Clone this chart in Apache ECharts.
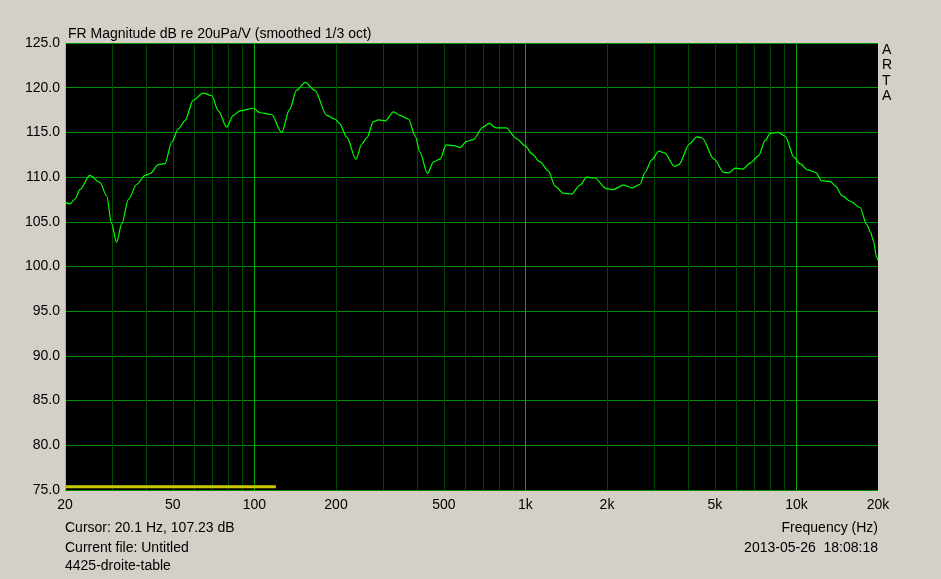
<!DOCTYPE html>
<html>
<head>
<meta charset="utf-8">
<script src="https://cdn.jsdelivr.net/npm/echarts@6/dist/echarts.min.js"></script>
<style>html,body{margin:0;padding:0;background:#D4D0C8;}#c{width:941px;height:579px;}</style>
</head>
<body>
<div id="c"></div>
<script>
const freq = [20,20.86,21.8,22.7,24.7,26.9,28.5,29.7,31.0,32.4,34.3,36.8,39.5,41.2,44.2,46.8,49.5,52.4,55.4,59.5,64.7,69.6,73.6,79.0,83.6,88.4,99,104.8,115.7,126,135,143,154,167,185,198,206,219,237,249,260,275,287,304,326,345,370,392,408,435,458,484,510,550,574,607,642,698,734,780,850,926,1000,1056,1132,1214,1286,1380,1480,1588,1686,1802,1992,2106,2296,2480,2650,2760,2918,3110,3260,3552,3680,4030,4284,4480,4968,5406,5638,5964,6340,6768,7254,7672,8000,8578,9072,9812,10288,11020,11810,12380,13360,13940,14760,15800,17170,18170,18800,19220,19780,20000];
const magDb = [107.2,107.0,107.55,108.6,110.2,109.4,107.9,104.8,102.7,104.8,107.5,109.2,110.2,110.4,111.4,111.5,113.9,115.4,116.3,118.6,119.4,119.1,117.4,115.6,116.9,117.4,117.7,117.2,117.0,115.0,117.6,119.7,120.6,119.7,116.9,116.5,116.0,114.5,112.0,113.7,114.4,116.2,116.4,116.3,117.3,116.9,116.5,114.6,112.8,110.4,111.7,112.0,113.6,113.5,113.3,114.0,114.2,115.6,116.0,115.5,115.5,114.3,113.5,112.6,111.7,110.7,109.0,108.2,108.1,109.1,110.0,109.9,108.7,108.6,109.1,108.8,109.2,110.5,111.9,112.9,112.7,111.2,111.4,113.7,114.5,114.4,112.0,110.5,110.5,111.0,110.9,111.6,112.4,114.1,114.9,115.0,114.6,112.2,111.5,110.8,110.5,109.6,109.5,109.0,107.9,107.3,106.6,104.7,103.8,102.9,101.0,100.7];
const markerFreq = [20, 120];
const markerDb = [75.35, 75.35];
const gridFreqs = [30,40,50,60,70,80,90,100,200,300,400,500,600,700,800,900,1000,2000,3000,4000,5000,6000,7000,8000,9000,10000];
const decadeFreqs = [100,1000,10000];
const labelFreqs = [20.001,50,100,200,500,1000,2000,5000,10000,19999];
const labelTexts = ['20','50','100','200','500','1k','2k','5k','10k','20k'];

const FONT = '"Liberation Sans", Arial, sans-serif';
const chart = echarts.init(document.getElementById('c'));

const gridMarks = gridFreqs.map(f => ({
  xAxis: f,
  lineStyle: {color: decadeFreqs.includes(f) ? '#00A800' : '#004A00', width: 1, type: 'solid'},
  label: {show: false}
}));
const labelMarks = labelFreqs.map((f, i) => ({
  xAxis: f,
  lineStyle: {color: 'rgba(0,0,0,0)', width: 0.1, type: 'solid'},
  label: {show: true, formatter: labelTexts[i], color: '#000', position: 'start', distance: 8, fontFamily: FONT, fontSize: 14}
}));

chart.setOption({
  backgroundColor: '#D4D0C8',
  animation: false,
  title: {
    text: 'FR Magnitude dB re 20uPa/V (smoothed 1/3 oct)',
    left: 63, top: 22,
    textStyle: {fontFamily: FONT, fontSize: 14, fontWeight: 'normal', color: '#000'}
  },
  grid: {left: 65, top: 43, width: 813, height: 447, show: true, backgroundColor: '#000', borderWidth: 0},
  xAxis: {
    type: 'log', logBase: 10, min: 20, max: 20000,
    axisLine: {show: false}, axisTick: {show: false}, axisLabel: {show: false}, splitLine: {show: false}
  },
  yAxis: {
    type: 'value', min: 75, max: 125, interval: 5,
    axisLine: {show: true, lineStyle: {color: '#C8C800', width: 1}},
    axisTick: {show: false},
    axisLabel: {formatter: v => v.toFixed(1), color: '#000', fontFamily: FONT, fontSize: 14, margin: 5},
    splitLine: {show: true, lineStyle: {color: '#008C00', width: 1}}
  },
  series: [
    {
      type: 'line', silent: true, symbol: 'none', data: [], z: 1,
      markLine: {
        silent: true, symbol: ['none','none'], animation: false, z: 1,
        data: gridMarks.concat(labelMarks)
      }
    },
    {
      type: 'line', silent: true, symbol: 'none', z: 20,
      data: markerFreq.map((f, i) => [f, markerDb[i]]),
      lineStyle: {color: '#C8C800', width: 3}
    },
    {
      type: 'line', silent: true, symbol: 'none', smooth: 0.3, smoothMonotone: 'x', z: 21,
      data: freq.map((f, i) => [f, magDb[i]]),
      lineStyle: {color: '#00FF00', width: 1.2}
    }
  ],
  graphic: [
    {type: 'text', left: 65, top: 521, style: {text: 'Cursor: 20.1 Hz, 107.23 dB', font: '14px ' + FONT, fill: '#000'}},
    {type: 'text', left: 65, top: 541, style: {text: 'Current file: Untitled', font: '14px ' + FONT, fill: '#000'}},
    {type: 'text', left: 65, top: 559, style: {text: '4425-droite-table', font: '14px ' + FONT, fill: '#000'}},
    {type: 'text', right: 941 - 878, top: 521, style: {text: 'Frequency (Hz)', font: '14px ' + FONT, fill: '#000'}},
    {type: 'text', right: 941 - 878, top: 541, style: {text: '2013-05-26  18:08:18', font: '14px ' + FONT, fill: '#000'}},
    {type: 'text', left: 882, top: 42, style: {text: 'A\nR\nT\nA', font: '14px ' + FONT, fill: '#000', lineHeight: 15.5, align: 'left'}}
  ]
});
</script>
</body>
</html>
